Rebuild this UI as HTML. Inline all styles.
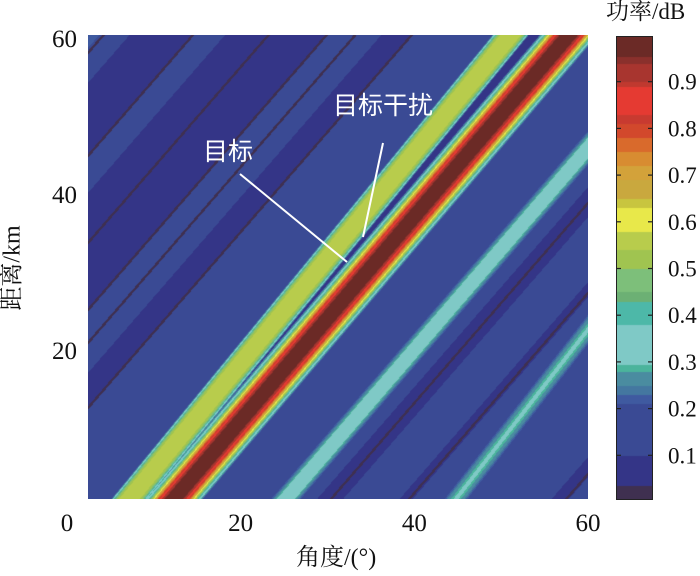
<!DOCTYPE html>
<html><head><meta charset="utf-8">
<style>
html,body{margin:0;padding:0;background:#fff;}
#wrap{position:relative;width:700px;height:576px;overflow:hidden;font-family:"Liberation Serif","Noto Serif CJK SC",serif;}
.t{position:absolute;color:#111;line-height:1;white-space:nowrap;}
canvas{position:absolute;}
</style></head>
<body>
<div id="wrap">
<canvas id="heat" width="500" height="464" style="left:88px;top:35px"></canvas>
<canvas id="cbar" width="37" height="464" style="left:616px;top:36px"></canvas>
<div style="position:absolute;left:616px;top:36px;width:35px;height:462px;border:1px solid #222;"></div>
<svg id="ov" width="700" height="576" style="position:absolute;left:0;top:0"></svg>
<div class="t" style="left:606px;top:0px;font-size:23px;font-family:'Liberation Serif','Noto Serif CJK SC',serif">功率/dB</div>
<div class="t" style="left:296px;top:546px;font-size:24px;font-family:'Liberation Serif','Noto Serif CJK SC',serif">角度/(°)</div>
<div class="t" style="left:-30px;top:256px;font-size:24px;transform:rotate(-90deg);font-family:'Liberation Serif','Noto Serif CJK SC',serif">距离/km</div>
<div class="t" style="left:333px;top:92px;font-size:25px;color:#fff;font-family:'Noto Sans CJK SC',sans-serif">目标干扰</div>
<div class="t" style="left:203px;top:138px;font-size:25px;color:#fff;font-family:'Noto Sans CJK SC',sans-serif">目标</div>
</div>
<script>
// colormap: lower thresholds and colours
const cmapLevels=[0,0.035,0.1,0.21,0.23,0.25,0.28,0.295,0.38,0.43,0.45,0.5,0.54,0.58,0.63,0.65,0.69,0.72,0.75,0.78,0.81,0.83,0.89,0.9,0.94,0.955];
const cmapColors=['#3f3050','#343587','#3a4a94','#3f5aa0','#4477a0','#4a8ca0','#4bb49c','#7fc9c6','#4db8a8','#6cb074','#7dbf7a','#a0c450','#b8cc4c','#e8e84a','#c8c53f','#c9a83e','#d3a23a','#d88c31','#d96a2c','#d2482c','#c83a30','#e53a32','#c0392f','#a8352f','#8a302c','#6b2a26'];
// band centre tracks: distance (km) -> angle (deg)
const mainD=[0.9,60.4];
const mainA=[12.2,57.7];
const intfD=[0.9,60.4];
const intfA=[7.1,51.0];
const cyanD=[0.9,45.0];
const cyanA=[25.1,59.2];
const faintD=[0.9,16.2];
const faintA=[44.7,55.4];
const bandAmp=[1.0,0.56,0.36,0.30];
const bandWidth=[2.9,2.1,2.3,2.2];
const bandPow=[3,6,2,2];
// background stripes in u = angle - 0.78*distance
const darkStripeStart=[-40,-29,-11,28,37.5,55];
const darkStripeEnd=[-32.7,-17.3,-7.5,31,39,57];
const lightStripeStart=[-46];
const lightStripeEnd=[-43.5];
const thinLines=[-43,-32.7,-24,-17.3,-14,-7.5,29.6,38.6,56.7];
const xTicks=[0,20,40,60];
const yTicks=[20,40,60];
const cbTicks=[0.1,0.2,0.3,0.4,0.5,0.6,0.7,0.8,0.9];

const xS=a=>67+a*(588-67)/60;
const yS=d=>506-d*7.8;
const cbS=v=>502-v*467;
function interp(D,A,d){if(d<=D[0])return A[0]+(A[1]-A[0])*(d-D[0])/(D[1]-D[0]);for(let i=1;i<D.length;i++){if(d<=D[i])return A[i-1]+(A[i]-A[i-1])*(d-D[i-1])/(D[i]-D[i-1]);}const n=D.length;return A[n-1]+(A[n-1]-A[n-2])*(d-D[n-1])/(D[n-1]-D[n-2]);}
function col(v){let c=cmapColors[0];for(let i=0;i<cmapLevels.length;i++)if(v>=cmapLevels[i])c=cmapColors[i];return c;}
function rgb(h){return [parseInt(h.substr(1,2),16),parseInt(h.substr(3,2),16),parseInt(h.substr(5,2),16)];}
const tracks=[[mainD,mainA],[intfD,intfA],[cyanD,cyanA],[faintD,faintA]];
function value(a,d){
  const u=a-0.78*d;let v=0.15;
  for(let i=0;i<darkStripeStart.length;i++)if(u>=darkStripeStart[i]&&u<=darkStripeEnd[i])v=0.07;
  for(let i=0;i<lightStripeStart.length;i++)if(u>=lightStripeStart[i]&&u<=lightStripeEnd[i])v=0.215;
  for(const t of thinLines)if(Math.abs(u-t)<0.18)v=0.02;
  const cm=interp(mainD,mainA,d),ci=interp(intfD,intfA,d);
  if(a>ci&&a<cm)v=0.07;
  for(let b=0;b<tracks.length;b++){const c=interp(tracks[b][0],tracks[b][1],d);const x=Math.abs(a-c)/bandWidth[b];const bv=bandAmp[b]*Math.exp(-Math.pow(x,bandPow[b]));if(bv>0.21)v=Math.max(v,bv);}
  return v;
}
const hc=document.getElementById('heat'),hx=hc.getContext('2d'),img=hx.createImageData(500,464);
const cache={};
for(let py=0;py<464;py++){const d=(506-(py+35))/7.8;for(let px=0;px<500;px++){const a=(px+88-67)*60/(588-67);const h=col(value(a,d));const c=cache[h]||(cache[h]=rgb(h));const k=(py*500+px)*4;img.data[k]=c[0];img.data[k+1]=c[1];img.data[k+2]=c[2];img.data[k+3]=255;}}
hx.putImageData(img,0,0);
const cc=document.getElementById('cbar'),cx=cc.getContext('2d');
for(let py=0;py<464;py++){const v=(502-(py+36))/467;cx.fillStyle=col(v);cx.fillRect(0,py,37,1);}
const NS='http://www.w3.org/2000/svg',ov=document.getElementById('ov');
function mk(tag,attrs){const e=document.createElementNS(NS,tag);for(const k in attrs)e.setAttribute(k,attrs[k]);ov.appendChild(e);return e;}
const SERIF='font-family:"Liberation Serif",serif;';
for(const t of xTicks){const e=mk('text',{x:xS(t),y:531,'text-anchor':'middle',style:SERIF+'font-size:25px',fill:'#111'});e.textContent=t;

}
for(const t of yTicks){const e=mk('text',{x:77,y:yS(t)+9,'text-anchor':'end',style:SERIF+'font-size:25px',fill:'#111'});e.textContent=t;

}
for(const t of cbTicks){const y=cbS(t);mk('line',{x1:617,x2:621,y1:y,y2:y,stroke:'#222','stroke-width':1.2});mk('line',{x1:648,x2:652,y1:y,y2:y,stroke:'#222','stroke-width':1.2});
const e=mk('text',{x:668,y:y+8,style:SERIF+'font-size:23px',fill:'#111'});e.textContent=t.toFixed(1);

}
const l1=mk('line',{x1:240,y1:174,x2:347,y2:262,stroke:'#fff','stroke-width':2});


const l2=mk('line',{x1:383,y1:143,x2:363,y2:237,stroke:'#fff','stroke-width':2});


</script>
</body></html>
